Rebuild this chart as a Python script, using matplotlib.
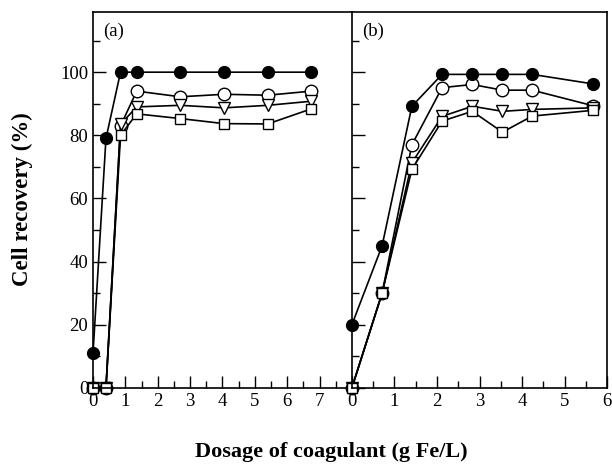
import matplotlib.pyplot as plt
import numpy as np

plt.rcParams['font.family'] = ['Liberation Serif', 'DejaVu Serif']

# Panel (a)
xa = [0, 0.4, 0.85, 1.35, 2.7, 4.05, 5.4, 6.75]
a_filled = [11, 79, 100, 100, 100, 100, 100, 100]
a_circle = [0, 0, 83, 94, 92.2, 93, 92.7, 94]
a_tri = [0, 0, 83.5, 89, 89.5, 88.7, 89.5, 90.8]
a_square = [0, 0, 80, 86.8, 85.3, 83.7, 83.6, 88.4]

# Panel (b)
xb = [0, 0.71, 1.41, 2.12, 2.83, 3.54, 4.24, 5.66]
b_filled = [20, 45, 89.2, 99.3, 99.3, 99.3, 99.3, 96.3]
b_circle = [0, 30, 77, 95.1, 96.1, 94.3, 94.3, 89.4]
b_tri = [0, 30, 71.3, 86, 89.2, 87.6, 88.2, 88.7]
b_square = [0, 30, 69.2, 84.5, 87.6, 81, 86.1, 87.9]

fig = plt.figure(figsize=(6.12, 4.69), dpi=100)
ax1 = fig.add_axes([0.152, 0.173, 0.423, 0.801])
ax2 = fig.add_axes([0.575, 0.173, 0.417, 0.801])

style = dict(color='black', lw=1.2, clip_on=False)

def draw(ax, x, filled, circ, tri, sq):
    ax.plot(x, circ, marker='o', ms=9, mfc='white', mec='black', mew=1.0, **style)
    ax.plot(x, tri, marker='v', ms=8.5, mfc='white', mec='black', mew=1.0, **style)
    ax.plot(x, sq, marker='s', ms=7.5, mfc='white', mec='black', mew=1.0, **style)
    ax.plot(x, filled, marker='o', ms=8.5, mfc='black', mec='black', **style)

draw(ax1, xa, a_filled, a_circle, a_tri, a_square)
draw(ax2, xb, b_filled, b_circle, b_tri, b_square)

ax1.set_xlim(0, 8)
ax2.set_xlim(0, 6)
for ax in (ax1, ax2):
    ax.set_ylim(0, 119)
    ax.set_yticks(np.arange(0, 101, 20))
    ax.set_yticks(np.arange(0, 111, 10), minor=True)
    ax.tick_params(which='both', direction='in', top=False, right=False,
                   labelsize=13.5)
    ax.tick_params(which='major', length=9, width=1)
    ax.tick_params(which='minor', length=5, width=1)
    for s in ax.spines.values():
        s.set_linewidth(1.2)
    ax.patch.set_alpha(0)

ax1.set_xticks(np.arange(0, 8, 1))
ax1.set_xticks(np.arange(0, 8, 0.5), minor=True)
ax2.set_xticks(np.arange(0, 7, 1))
ax2.set_xticks(np.arange(0, 6, 0.5), minor=True)
ax2.tick_params(axis='y', labelleft=False)
ax1.spines['right'].set_visible(False)

ax1.text(0.3, 113, '(a)', fontsize=13.5, va='center')
ax2.text(0.25, 113, '(b)', fontsize=13.5, va='center')

fig.text(0.036, 0.575, 'Cell recovery (%)', fontsize=16.5, fontweight='bold',
         rotation=90, ha='center', va='center')
fig.text(0.542, 0.036, 'Dosage of coagulant (g Fe/L)', fontsize=16,
         fontweight='bold', ha='center', va='center')

fig.savefig('out.png', dpi=100)
